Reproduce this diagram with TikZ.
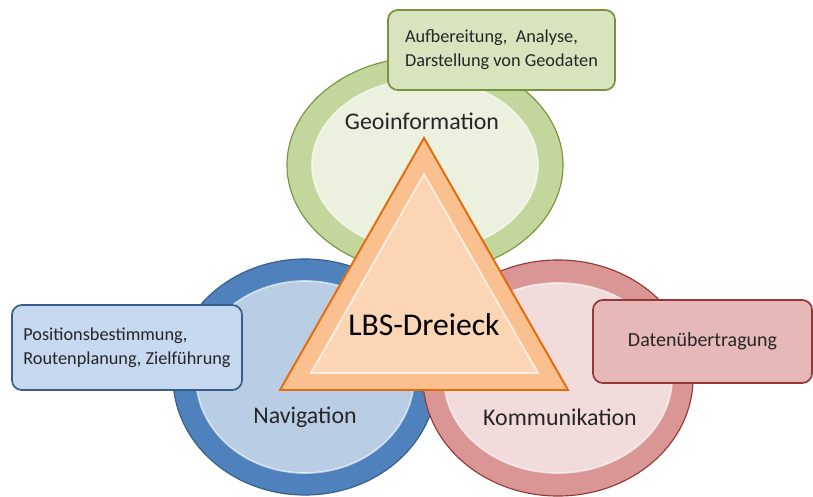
\documentclass[tikz,border=0pt]{standalone}
\usepackage{fontspec}
\setmainfont{Carlito}
\usetikzlibrary{positioning, shapes.geometric}
\definecolor{geoRing}{HTML}{C3D69B}
\definecolor{geoLine}{HTML}{77933C}
\definecolor{geoFill}{HTML}{EBF1DE}
\definecolor{geoBox}{HTML}{D7E4BD}
\definecolor{navRing}{HTML}{4F81BD}
\definecolor{navLine}{HTML}{385D8A}
\definecolor{navFill}{HTML}{B9CDE5}
\definecolor{navBox}{HTML}{C6D9F1}
\definecolor{komRing}{HTML}{D99694}
\definecolor{komLine}{HTML}{953735}
\definecolor{komFill}{HTML}{F2DCDB}
\definecolor{komBox}{HTML}{E6B9B8}
\definecolor{lbsLine}{HTML}{E46C0A}
\definecolor{lbsRing}{HTML}{FAC090}
\definecolor{lbsFill}{HTML}{FCD5B5}
\definecolor{txt}{HTML}{262626}
\tikzset{
  ring/.style={
    ellipse,
    draw,
    line width=0.8pt,
    inner sep=0pt
  },
  core/.style={
    ellipse,
    draw=white,
    draw opacity=0.6,
    line width=1.2pt,
    inner sep=0pt
  },
  topic/.style={
    text=txt,
    font=\fontsize{17}{20}\selectfont
  },
  infobox/.style={
    draw,
    rectangle,
    rounded corners=7pt,
    line width=1.2pt,
    align=left,
    text=txt,
    font=\fontsize{13}{17}\selectfont
  }
}

\begin{document}
\begin{tikzpicture}[x=0.025cm, y=-0.025cm]
    \useasboundingbox (0,0) rectangle (813,497);

    \node[ring, draw=navLine, fill=navRing, minimum width=6.6cm, minimum height=5.9cm] (nav) at (305,377) {};
    \node[core, fill=navFill, minimum width=5.45cm, minimum height=4.8cm] (navcore) at (nav.center) {};
    \node[ring, draw=komLine, fill=komRing, minimum width=6.75cm, minimum height=5.9cm] (kom) at (558,378) {};
    \node[core, fill=komFill, minimum width=5.7cm, minimum height=4.75cm] (komcore) at (kom.center) {};
    \node[ring, draw=geoLine, fill=geoRing, minimum width=6.9cm, minimum height=5.4cm] (geo) at (425,165) {};
    \node[core, fill=geoFill, minimum width=5.65cm, minimum height=4.3cm] (geocore) at (geo.center) {};

    \node[topic] (geolabel) at (422,121) {Geoinformation};
    \node[topic] (navlabel) at (305,417) {Navigation};
    \node[topic] (komlabel) at (560,417) {Kommunikation};

    \coordinate (top) at (424,138);
    \coordinate (left) at (280,390);
    \coordinate (right) at (568,390);
    \coordinate (itop) at (424,174);
    \coordinate (ileft) at (311,373);
    \coordinate (iright) at (538,373);
    \draw[draw=lbsLine, fill=lbsRing, line width=1.4pt, line join=miter] (top) -- (left) -- (right) -- cycle;
    \draw[draw=white, draw opacity=0.7, fill=lbsFill, line width=1.2pt] (itop) -- (ileft) -- (iright) -- cycle;
    \node[text=black, font=\fontsize{22.5}{26}\selectfont] (lbs) at (424,325) {LBS-Dreieck};

    \node[infobox, draw=geoLine, fill=geoBox, minimum width=5.675cm, minimum height=2cm] (geobox) at (501.5,50) {Aufbereitung,~ Analyse,\\Darstellung von Geodaten};
    \node[infobox, draw=navLine, fill=navBox, minimum width=5.75cm, minimum height=2.125cm] (navbox) at (127,347.5) {Positionsbestimmung,\\Routenplanung, Zielführung};
    \node[infobox, draw=komLine, fill=komBox, font=\fontsize{14.2}{17}\selectfont, minimum width=5.475cm, minimum height=2.075cm] (kombox) at (702.5,341.5) {Datenübertragung};
\end{tikzpicture}
\end{document}
